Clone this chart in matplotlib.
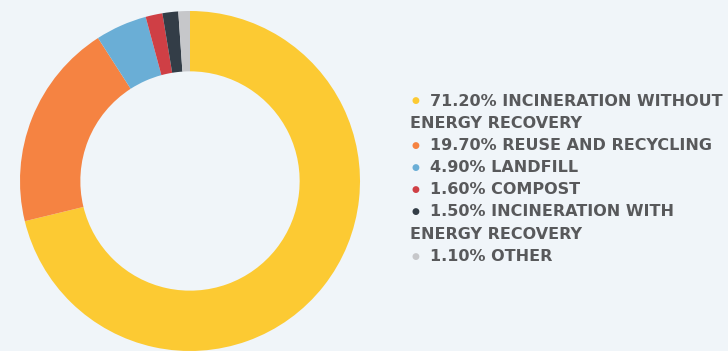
import matplotlib.pyplot as plt

# data
values = [71.2, 19.7, 4.9, 1.6, 1.5, 1.1]
names = ["INCINERATION WITHOUT\nENERGY RECOVERY", "REUSE AND RECYCLING", "LANDFILL",
         "COMPOST", "INCINERATION WITH\nENERGY RECOVERY", "OTHER"]
colors = ["#FCCA33", "#F58342", "#6AAED6", "#CF3F45", "#333D47", "#C6C7CA"]

bg = "#F0F5F9"
W, H = 728, 351
fig = plt.figure(figsize=(W / 100, H / 100), dpi=100, facecolor=bg)

# donut: centre (190, 181) px, radius 170 px
ax = fig.add_axes([20 / W, 0 / H, 340 / W, 340 / H])
ax.set_facecolor(bg)
ax.pie(values, colors=colors, startangle=90, counterclock=False, radius=1,
       wedgeprops=dict(width=0.355, linewidth=0))
ax.set_xlim(-1, 1)
ax.set_ylim(-1, 1)
ax.set_aspect("equal")
ax.axis("off")

# legend drawn by hand
txt = dict(color="#58595B", fontsize=11.5, family="DejaVu Sans", weight="bold",
           ha="left", va="center")
y = 101
step = 22.2
for v, name, c in zip(values, names, colors):
    lines = name.split("\n")
    fig.text(415 / W, 1 - y / H, "\u25CF", color=c, fontsize=6.5,
             ha="center", va="center")
    fig.text(430 / W, 1 - y / H, f"{v:.2f}% {lines[0]}", **txt)
    y += step
    for extra in lines[1:]:
        fig.text(410 / W, 1 - y / H, extra, **txt)
        y += step

fig.savefig("out.png", dpi=100, facecolor=bg)
